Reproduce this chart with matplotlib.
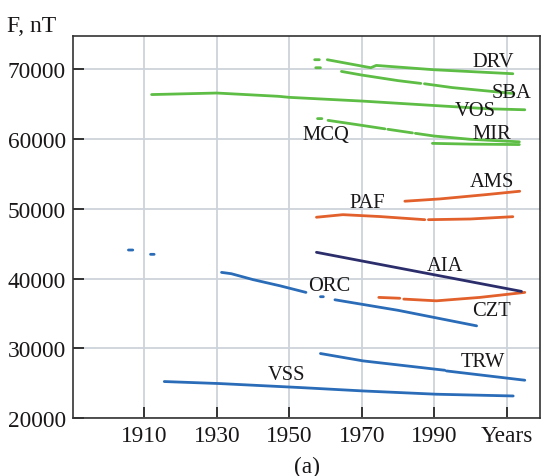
import numpy as np
import matplotlib
matplotlib.use("Agg")
import matplotlib.pyplot as plt

nan = np.nan

# station curves, F in nT (nan = gap in the record)
drv_years = [1957.0, 1958.3, nan, 1960.5, 1972.5, 1974.0, 1990.0, 2011.7]
drv_F = [71400, 71400, nan, 71400, 70250, 70580, 69960, 69390]

sba_years = [1957.3, 1958.6, nan, 1964.4, 1970, 1980, 1986.3, nan, 1987.3, 1995, 2005, 2012]
sba_F = [70250, 70250, nan, 69720, 69200, 68400, 68000, nan, 67950, 67400, 66900, 66550]

vos_years = [1912, 1930, 1947, 1950, 1970, 1990, 2005, 2015]
vos_F = [66400, 66620, 66150, 66000, 65470, 64830, 64360, 64220]

mcq_years = [1957.8, 1959.0, nan, 1960.7, 1968, 1976.4, nan, 1977.2, 1984, nan, 1984.8,
             1990, 2000, 2013.5]
mcq_F = [62950, 62950, nan, 62700, 62140, 61480, nan, 61420, 60900, nan, 60840,
         60450, 59980, 59620]

mir_years = [1989.5, 2000, 2013.5]
mir_F = [59400, 59290, 59230]

ams_years = [1981.9, 1991.6, 2004.4, 2013.6]
ams_F = [51100, 51430, 52050, 52530]

paf_years = [1957.5, 1964.8, 1975, 1987.4, nan, 1988.4, 2000, 2011.7]
paf_F = [48800, 49170, 48900, 48450, nan, 48450, 48550, 48880]

aia_years = [1957.5, 2014.1]
aia_F = [43770, 38160]

czt_years = [1974.7, 1980.5, nan, 1981.6, 1990.6, 2002.6, 2015]
czt_F = [37300, 37180, nan, 37060, 36810, 37300, 38020]

orc_years = [1905.6, 1906.8, nan, 1911.7, 1912.7, nan,
             1931.3, 1934, 1940, 1947.4, 1954.6, nan,
             1958.6, 1959.4, nan,
             1962.6, 1980, 2001.7]
orc_F = [44100, 44100, nan, 43480, 43480, nan,
         40890, 40700, 39850, 38970, 38020, nan,
         37400, 37400, nan,
         36960, 35450, 33220]

trw_years = [1958.6, 1970.4, 1992.9, nan, 1993.4, 2015]
trw_F = [29250, 28190, 26850, nan, 26750, 25420]

vss_years = [1915.5, 1930.8, 1952.9, 1970.4, 1990.6, 2011.8]
vss_F = [25230, 24940, 24370, 23880, 23410, 23160]

# label text and anchor (year, F)
labels = ["DRV", "SBA", "VOS", "MIR", "MCQ", "AMS", "PAF", "AIA", "ORC", "CZT", "TRW", "VSS"]
label_years = [2006.2, 2011.3, 2001.2, 2005.8, 1960.2, 2006.0, 1971.5, 1993.0, 1961.0, 2005.8, 2003.5, 1949.3]
label_F = [71215, 66760, 64120, 60770, 60700, 53970, 50950, 41940, 38970, 35380, 28050, 26300]

xticks = [1910, 1930, 1950, 1970, 1990, 2010]
xtick_labels = ["1910", "1930", "1950", "1970", "1990", "Years"]
yticks = [20000, 30000, 40000, 50000, 60000, 70000]

green = "#5dbd45"
blue = "#2a6cb8"
orange = "#e2602b"
navy = "#2c2e6c"
ink = "#1a1718"

plt.rcParams['font.family'] = ['Liberation Serif', 'DejaVu Serif']

fig = plt.figure(figsize=(5.48, 4.77), dpi=100)
ax = fig.add_axes([0.1332, 0.1216, 0.8522, 0.8008])

lw = 2.0
for yrs, F in [(drv_years, drv_F), (sba_years, sba_F), (vos_years, vos_F),
               (mcq_years, mcq_F), (mir_years, mir_F)]:
    ax.plot(yrs, F, color=green, lw=lw, solid_capstyle='round')
for yrs, F in [(ams_years, ams_F), (paf_years, paf_F), (czt_years, czt_F)]:
    ax.plot(yrs, F, color=orange, lw=lw, solid_capstyle='round')
ax.plot(aia_years, aia_F, color=navy, lw=lw, solid_capstyle='round')
for yrs, F in [(orc_years, orc_F), (trw_years, trw_F), (vss_years, vss_F)]:
    ax.plot(yrs, F, color=blue, lw=lw, solid_capstyle='round')

for t, x, y in zip(labels, label_years, label_F):
    ax.text(x, y, t, fontsize=14.8, ha='center', va='center', color=ink)

ax.set_xlim(1890.3, 2019.2)
ax.set_ylim(20000, 74800)
ax.set_xticks(xticks)
ax.set_xticklabels(xtick_labels)
ax.set_yticks(yticks)
ax.grid(True, color='#cdd3da', lw=1.3)
ax.set_axisbelow(True)
ax.tick_params(direction='in', length=8, width=1.2, labelsize=16.8, colors=ink, pad=5)
for s in ax.spines.values():
    s.set_linewidth(1.2)
    s.set_color('#333333')

fig.text(0.013, 0.945, "F, nT", fontsize=17, ha='left', va='center', color=ink)
fig.text(0.56, 0.019, "(a)", fontsize=16.8, ha='center', va='center', color=ink)

fig.savefig("out.png", dpi=100)
